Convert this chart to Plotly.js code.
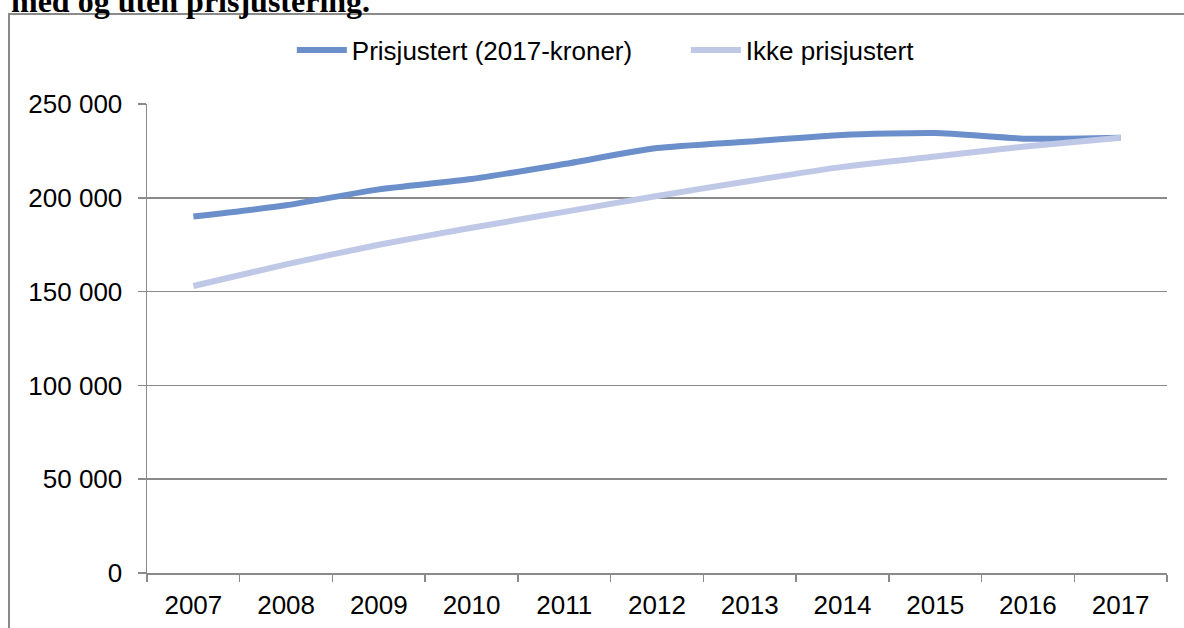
<!DOCTYPE html>
<html>
<head>
<meta charset="utf-8">
<script src="https://cdn.plot.ly/plotly-3.0.1.min.js"></script>
<style>
html,body{margin:0;padding:0;background:#fff;}
#chart{width:1184px;height:628px;}
</style>
</head>
<body>
<div id="chart"></div>
<script>
var years = ["2007","2008","2009","2010","2011","2012","2013","2014","2015","2016","2017"];
var prisjustert = [190000,196000,204500,210000,218000,226500,230000,233500,234500,231500,232000];
var ikkePrisjustert = [153000,164500,175000,184000,192500,201000,209000,216500,222000,227500,232000];
var seriesNames = ["Prisjustert (2017-kroner)","Ikke prisjustert"];
var titleText = "med og uten prisjustering.";
var yTicks = [0,50000,100000,150000,200000,250000];

var gridColor = "#8a8a8a";
var font = "Liberation Sans, Arial, sans-serif";

var traces = [
  {x: years, y: prisjustert, name: seriesNames[0], type: "scatter", mode: "lines",
   line: {color: "#6a8fcb", width: 6, shape: "spline", smoothing: 0.6}},
  {x: years, y: ikkePrisjustert, name: seriesNames[1], type: "scatter", mode: "lines",
   line: {color: "#bfc8e6", width: 6, shape: "spline", smoothing: 0.6}}
];

var layout = {
  width: 1184, height: 628,
  margin: {l: 147, r: 17, t: 104, b: 55, pad: 0, autoexpand: false},
  paper_bgcolor: "#ffffff", plot_bgcolor: "#ffffff",
  separators: ", ",
  font: {family: font, size: 26, color: "#000000"},
  showlegend: true,
  hovermode: false,
  legend: {orientation: "h", x: 0.142, xanchor: "left", y: 1.115, yanchor: "middle",
           font: {family: font, size: 26, color: "#000"}, itemwidth: 50,
           entrywidth: 329, entrywidthmode: "pixels",
           bgcolor: "rgba(0,0,0,0)"},
  xaxis: {type: "category", range: [-0.5, 10.5], tickson: "boundaries",
          ticks: "outside", ticklen: 7, tickcolor: gridColor, tickwidth: 1.5,
          showline: true, linecolor: gridColor, linewidth: 1.5,
          showgrid: false, zeroline: false, ticklabelstandoff: 8,
          tickfont: {family: font, size: 26, color: "#000"}, fixedrange: true},
  yaxis: {range: [0, 250000], tickvals: yTicks, tickformat: ",d",
          ticks: "outside", ticklen: 8, tickcolor: gridColor, tickwidth: 1.5,
          showline: true, linecolor: gridColor, linewidth: 1.5,
          showgrid: true, gridcolor: gridColor, gridwidth: 1.5, zeroline: false,
          ticklabelstandoff: 10,
          tickfont: {family: font, size: 26, color: "#000"}, fixedrange: true},
  shapes: [
    {type: "rect", xref: "paper", yref: "paper",
     x0: -0.1353, x1: 1.2, y0: -0.3, y1: 1.1919,
     line: {color: "#8a8a8a", width: 2}, fillcolor: "rgba(0,0,0,0)", layer: "below"}
  ],
  annotations: [
    {text: "<b>" + titleText + "</b>", xref: "paper", yref: "paper",
     x: -0.1353, xanchor: "left", y: 1.2200, yanchor: "middle", showarrow: false,
     font: {family: "Liberation Serif, Times New Roman, serif", size: 32, color: "#000"}}
  ]
};

Plotly.newPlot("chart", traces, layout, {displayModeBar: false, staticPlot: true});
</script>
</body>
</html>
